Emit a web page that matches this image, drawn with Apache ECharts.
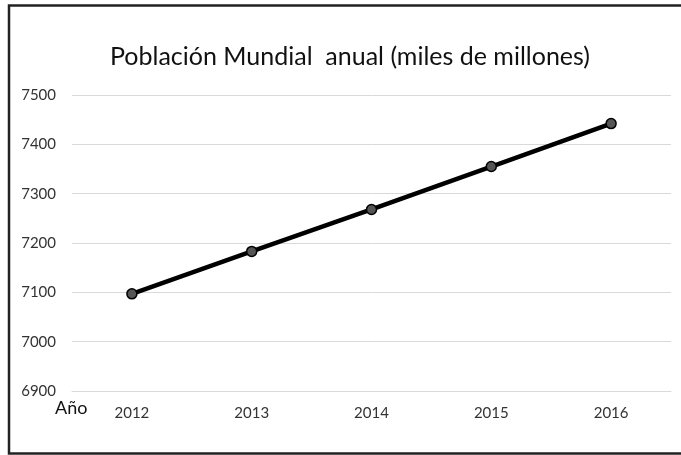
<!DOCTYPE html>
<html>
<head>
<meta charset="utf-8">
<script src="https://cdn.jsdelivr.net/npm/echarts@6/dist/echarts.min.js"></script>
<style>html,body{margin:0;padding:0;background:#fff;}#c{width:681px;height:455px;}</style>
</head>
<body>
<div id="c"></div>
<script>
const titleText = 'Población Mundial  anual (miles de millones)';
const years = ['2012', '2013', '2014', '2015', '2016'];
const population = [7097, 7183, 7268, 7355, 7442];
const yMin = 6900, yMax = 7500, yStep = 100;
const xAxisLabel = 'Año';

const chart = echarts.init(document.getElementById('c'));
chart.setOption({
  animation: false,
  backgroundColor: '#fff',
  title: {
    text: titleText, left: 345, top: 39, textAlign: 'center',
    textStyle: { fontFamily: 'Lato', fontSize: 25, fontWeight: 'normal', color: '#111' }
  },
  grid: { left: 72, right: 10, top: 95, bottom: 64, containLabel: false },
  xAxis: {
    type: 'category', data: years, boundaryGap: true,
    axisLine: { show: true, lineStyle: { color: '#d9d9d9', width: 1 } },
    axisTick: { show: false },
    axisLabel: { margin: 15, fontFamily: 'Lato', fontSize: 15, color: '#333' }
  },
  yAxis: {
    type: 'value', min: yMin, max: yMax, interval: yStep,
    axisLine: { show: false }, axisTick: { show: false },
    splitLine: { lineStyle: { color: '#d9d9d9', width: 1 } },
    axisLabel: { margin: 16, fontFamily: 'Lato', fontSize: 15, color: '#333', formatter: v => String(v) }
  },
  graphic: [
    { type: 'rect', shape: { x: 9, y: 5.5, width: 720, height: 448 }, style: { fill: 'none', stroke: '#222', lineWidth: 2.5 }, silent: true },
    { type: 'text', left: 55, top: 399, style: { text: xAxisLabel, fontFamily: 'Lato', fontSize: 18, fill: '#111' } }
  ],
  series: [{
    type: 'line', data: population,
    symbol: 'circle', symbolSize: 10, showAllSymbol: true,
    lineStyle: { color: '#000', width: 4.5 },
    itemStyle: { color: '#555', borderColor: '#000', borderWidth: 1.5 }
  }]
});
</script>
</body>
</html>
